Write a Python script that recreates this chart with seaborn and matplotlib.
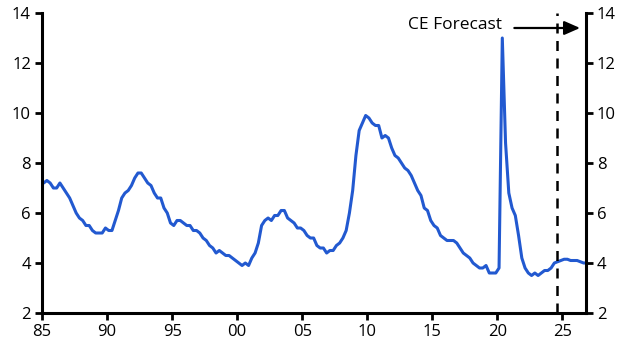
import numpy as np
import pandas as pd
import matplotlib
matplotlib.use("Agg")
import matplotlib.pyplot as plt
import seaborn as sns

# Quarterly unemployment rate (%), 1985Q1 - 2026Q4 (forecast from 2024Q3)
start_year = 1985
rate = [
    7.2, 7.3, 7.2, 7.0,   # 1985
    7.0, 7.2, 7.0, 6.8,   # 1986
    6.6, 6.3, 6.0, 5.8,   # 1987
    5.7, 5.5, 5.5, 5.3,   # 1988
    5.2, 5.2, 5.2, 5.4,   # 1989
    5.3, 5.3, 5.7, 6.1,   # 1990
    6.6, 6.8, 6.9, 7.1,   # 1991
    7.4, 7.6, 7.6, 7.4,   # 1992
    7.2, 7.1, 6.8, 6.6,   # 1993
    6.6, 6.2, 6.0, 5.6,   # 1994
    5.5, 5.7, 5.7, 5.6,   # 1995
    5.5, 5.5, 5.3, 5.3,   # 1996
    5.2, 5.0, 4.9, 4.7,   # 1997
    4.6, 4.4, 4.5, 4.4,   # 1998
    4.3, 4.3, 4.2, 4.1,   # 1999
    4.0, 3.9, 4.0, 3.9,   # 2000
    4.2, 4.4, 4.8, 5.5,   # 2001
    5.7, 5.8, 5.7, 5.9,   # 2002
    5.9, 6.1, 6.1, 5.8,   # 2003
    5.7, 5.6, 5.4, 5.4,   # 2004
    5.3, 5.1, 5.0, 5.0,   # 2005
    4.7, 4.6, 4.6, 4.4,   # 2006
    4.5, 4.5, 4.7, 4.8,   # 2007
    5.0, 5.3, 6.0, 6.9,   # 2008
    8.3, 9.3, 9.6, 9.9,   # 2009
    9.8, 9.6, 9.5, 9.5,   # 2010
    9.0, 9.1, 9.0, 8.6,   # 2011
    8.3, 8.2, 8.0, 7.8,   # 2012
    7.7, 7.5, 7.2, 6.9,   # 2013
    6.7, 6.2, 6.1, 5.7,   # 2014
    5.5, 5.4, 5.1, 5.0,   # 2015
    4.9, 4.9, 4.9, 4.8,   # 2016
    4.6, 4.4, 4.3, 4.2,   # 2017
    4.0, 3.9, 3.8, 3.8,   # 2018
    3.9, 3.6, 3.6, 3.6,   # 2019
    3.8, 13.0, 8.8, 6.8,  # 2020
    6.2, 5.9, 5.1, 4.2,   # 2021
    3.8, 3.6, 3.5, 3.6,   # 2022
    3.5, 3.6, 3.7, 3.7,   # 2023
    3.8, 4.0, 4.05, 4.1,  # 2024
    4.15, 4.15, 4.1, 4.1, # 2025
    4.1, 4.05, 4.0, 4.0,  # 2026
]
forecast_start = 2024.55
forecast_label = "CE Forecast"
x_ticks = [1985, 1990, 1995, 2000, 2005, 2010, 2015, 2020, 2025]
x_ticklabels = ["85", "90", "95", "00", "05", "10", "15", "20", "25"]
y_ticks = [2, 4, 6, 8, 10, 12, 14]

t = [start_year + i // 4 + ((i % 4) + 0.5) / 4 for i in range(len(rate))]
df = pd.DataFrame({"t": t, "rate": rate})

sns.set_theme(style="white")
plt.rcParams["font.family"] = ["Open Sans", "DejaVu Sans"]

fig = plt.figure(figsize=(6.3, 3.54), dpi=100)
ax = fig.add_axes([0.0667, 0.1158, 0.8633, 0.8475])

sns.lineplot(data=df, x="t", y="rate", ax=ax, color="#2259D0", linewidth=2.2)

ax.axvline(forecast_start, color="black", linestyle=(0, (4, 3)), linewidth=1.8)

ax.set_xlim(1985, 2026.8)
ax.set_ylim(2, 14)
ax.set_xticks(x_ticks)
ax.set_xticklabels(x_ticklabels)
ax.set_yticks(y_ticks)
ax.set_xlabel("")
ax.set_ylabel("")

for s in ["left", "bottom", "right"]:
    ax.spines[s].set_visible(True)
    ax.spines[s].set_color("black")
    ax.spines[s].set_linewidth(2.2)
ax.spines["top"].set_visible(False)

ax.tick_params(axis="both", which="both", direction="out", length=5, width=2,
               color="black", labelsize=12, labelcolor="black", pad=3)
ax.tick_params(axis="y", left=True, right=True, labelleft=True, labelright=True)
ax.tick_params(axis="x", bottom=True)

ax.annotate("", xy=(2026.35, 13.4), xytext=(2021.3, 13.4),
            arrowprops=dict(arrowstyle="-|>,head_length=0.5,head_width=0.22",
                            color="black", lw=1.6, mutation_scale=19,
                            shrinkA=0, shrinkB=0))
ax.text(2020.35, 13.52, forecast_label, ha="right", va="center",
        fontsize=12.5, color="black")

fig.savefig("out.png", dpi=100)
